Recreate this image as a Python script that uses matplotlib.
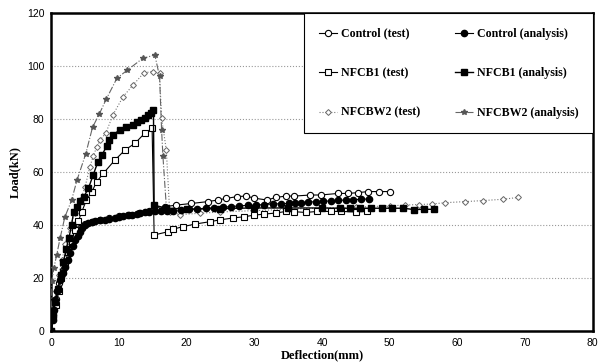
import numpy as np
import matplotlib
matplotlib.use("Agg")
import matplotlib.pyplot as plt

# Control (test)
ct_x = [0, 0.3, 0.7, 1.2, 1.7, 2.3, 3.0, 3.6, 4.2, 5.0, 6.0, 7.2, 8.5, 10.0, 11.5, 13.0, 14.5,
        15.5, 16.8, 18.5, 20.7, 23.1, 24.6, 25.8, 27.5, 28.8, 30.0, 31.9, 33.2, 34.7, 35.9,
        38.3, 39.8, 42.4, 43.9, 45.3, 46.8, 48.4, 50.0]
ct_y = [0, 6, 12, 18, 23, 28, 33, 36.5, 39, 40.5, 41.3, 42, 42.6, 43.3, 44, 44.6, 45.3,
        46, 47, 47.6, 48.2, 48.9, 49.5, 50.1, 50.8, 51, 50.2, 49.5, 50.5, 51, 51,
        51.4, 51.4, 52, 52, 52.3, 52.7, 52.7, 52.7]

# Control (analysis)
ca_x = [0, 0.2, 0.4, 0.6, 0.9, 1.3, 1.7, 2.1, 2.5, 2.8, 3.2, 3.5, 3.9, 4.3, 4.6, 5.0, 5.5,
        6.0, 6.5, 7.2, 7.9, 8.6, 9.4, 10.0, 10.6, 11.3, 12.0, 12.6, 13.1, 13.8, 14.5, 15.3,
        16.2, 17.1, 18.0, 19.2, 20.4, 21.6, 22.9, 24.1, 25.3, 26.5, 27.8, 29.0, 30.2, 31.5,
        32.7, 33.9, 35.1, 36.0, 36.9, 38.0, 39.1, 40.2, 41.3, 42.4, 43.5, 44.6, 45.8, 46.9]
ca_y = [0, 4, 8, 11.7, 15, 19.3, 22, 24.3, 27, 29.4, 32, 34.4, 36, 37.5, 38.8, 40, 40.7,
        41.3, 41.5, 41.8, 42, 42.4, 42.8, 43, 43.3, 43.7, 44, 44.3, 44.5, 44.8, 45, 45.2,
        45.2, 45.2, 45.2, 45.6, 46, 46.2, 46.4, 46.6, 46.8, 47, 47.3, 47.5, 47.6, 47.8,
        48, 48.1, 48.2, 48.3, 48.5, 48.7, 48.9, 49, 49.2, 49.4, 49.5, 49.6, 49.8, 49.9]

# NFCB1 (test)
bt_x = [0, 0.3, 0.7, 1.1, 1.5, 2.0, 2.5, 3.0, 3.5, 4.0, 4.5, 5.2, 6.0, 6.7, 7.7, 9.4, 10.9,
        12.4, 13.8, 14.9, 15.2, 17.2, 18.0, 19.4, 21.2, 23.4, 24.9, 26.8, 28.5, 30.0, 31.5,
        33.2, 34.7, 35.9, 37.6, 39.3, 41.3, 42.8, 45.0, 46.6]
bt_y = [0, 5, 10, 15, 20, 25, 30, 34, 38, 41.5, 45, 49.5, 52.6, 56.4, 59.6, 64.6, 68.4,
        71, 74.7, 76.6, 36.3, 37.5, 38.5, 39.4, 40.4, 41.3, 42, 42.7, 43.2, 43.8, 44.2,
        44.6, 45.2, 45.1, 44.8, 45.2, 45.2, 45.2, 45.0, 45.2]

# NFCB1 (analysis)
ba_x = [0, 0.3, 0.6, 1.0, 1.4, 1.8, 2.2, 2.6, 3.0, 3.3, 3.8, 4.2, 4.8, 5.5, 6.2, 6.9, 7.5,
        8.2, 8.6, 9.1, 10.1, 11.0, 12.1, 12.7, 13.3, 13.8, 14.3, 14.7, 15.1, 15.2, 17.0,
        20.0, 25.0, 30.0, 35.0, 40.0, 42.7, 44.2, 45.6, 47.3, 48.9, 50.4, 52.0, 53.6, 55.0, 56.6]
ba_y = [0, 6, 11, 16, 21, 26, 31, 35, 40, 45, 47, 49, 50.7, 54, 59, 64, 66.5,
        70, 72, 74, 76, 77.2, 77.9, 79, 79.7, 80.6, 81.6, 82.5, 83.5, 47.5, 46.5,
        46, 46.3, 46.5, 46.5, 46.5, 46.4, 46.4, 46.4, 46.4, 46.4, 46.4, 46.4, 45.9, 46, 46]

# NFCBW2 (test)
wt_x = [0, 0.3, 0.7, 1.1, 1.6, 2.1, 2.7, 3.5, 4.3, 5.0, 5.7, 6.2, 6.7, 7.2, 8.1, 9.1,
        10.6, 12.1, 13.7, 15.0, 16.0, 16.3, 17.0, 17.5, 19.0, 22.0, 25.0, 30.0, 35.0,
        40.0, 45.0, 50.0, 52.3, 54.3, 56.2, 58.2, 61.1, 63.8, 66.8, 69.0]
wt_y = [0, 8, 15, 21, 27, 33, 39, 44.6, 49.5, 54.5, 62, 66, 69.5, 72, 75, 81.6,
        88.5, 93, 97.6, 98, 97.4, 80.4, 68.4, 45, 44, 44.5, 45, 45.5, 46,
        46.5, 46.8, 47.3, 47.6, 47.8, 48, 48.5, 48.9, 49.3, 49.8, 50.5]

# NFCBW2 (analysis)
wa_x = [0, 0.1, 0.4, 0.8, 1.3, 2.0, 3.0, 3.8, 5.1, 6.1, 7.1, 8.1, 9.7, 11.2, 13.5, 15.3,
        16.0, 16.3, 16.5, 17.0]
wa_y = [0, 19, 24, 28.7, 35, 43, 49.4, 57, 67, 77, 82, 87.5, 95.5, 98.5, 103, 104.3,
        96.2, 76, 66, 47]

fig = plt.figure(figsize=(6.03, 3.63), dpi=100)
ax = fig.add_axes([0.085, 0.088, 0.898, 0.875])

l_ct, = ax.plot(ct_x, ct_y, color="black", lw=0.8, marker="o", ms=4.5, mfc="white",
                mec="black", mew=0.8, label="Control (test)", zorder=4)
l_ca, = ax.plot(ca_x, ca_y, color="black", lw=0.8, marker="o", ms=4.5, mfc="black",
                mec="black", label="Control (analysis)", zorder=5)
l_bt, = ax.plot(bt_x, bt_y, color="black", lw=0.8, marker="s", ms=4.5, mfc="white",
                mec="black", mew=0.8, label="NFCB1 (test)", zorder=4)
l_ba, = ax.plot(ba_x, ba_y, color="black", lw=1.0, marker="s", ms=4.5, mfc="black",
                mec="black", label="NFCB1 (analysis)", zorder=5)
l_wt, = ax.plot(wt_x, wt_y, color="#777777", lw=0.8, ls=":", marker="D", ms=3, mfc="white",
                mec="#666666", mew=0.7, label="NFCBW2 (test)", zorder=3)
l_wa, = ax.plot(wa_x, wa_y, color="#666666", lw=0.8, ls="-.", marker="*", ms=4,
                mfc="#555555", mec="#555555", label="NFCBW2 (analysis)", zorder=3)

ax.set_xlim(0, 80)
ax.set_ylim(0, 120)
ax.set_xticks(np.arange(0, 81, 10))
ax.set_yticks(np.arange(0, 121, 20))
ax.tick_params(length=0, labelsize=7.5, pad=5)
for lbl in ax.get_xticklabels() + ax.get_yticklabels():
    lbl.set_family("Liberation Sans")

ax.yaxis.grid(True, color="#999999", ls=":", lw=0.8)
ax.set_axisbelow(True)
for s in ax.spines.values():
    s.set_linewidth(1.8)

ax.set_xlabel("Deflection(mm)", family="Liberation Serif", weight="bold", fontsize=9,
              labelpad=1)
ax.set_ylabel("Load(kN)", family="Liberation Serif", weight="bold", fontsize=9,
              labelpad=4)

# row-wise legend order: test | analysis
handles = [l_ct, l_bt, l_wt, l_ca, l_ba, l_wa]
leg = ax.legend(handles=handles, labels=[h.get_label() for h in handles],
                ncol=2, loc="upper right", bbox_to_anchor=(1.0, 1.0),
                prop={"family": "Liberation Serif", "weight": "bold", "size": 8.6},
                frameon=True, fancybox=False, edgecolor="black", framealpha=1,
                labelspacing=2.3, handlelength=1.5, handletextpad=0.35,
                columnspacing=2.9, borderpad=1.2, borderaxespad=0.0)
leg.get_frame().set_linewidth(0.8)

fig.savefig("out.png", dpi=100)
